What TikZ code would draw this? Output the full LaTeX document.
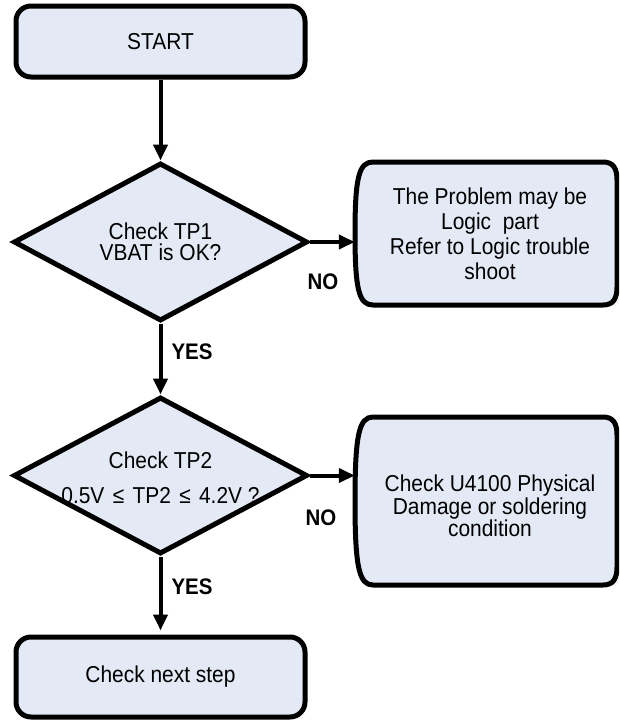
\documentclass[tikz,border=0pt]{standalone}
\usepackage{fontspec}
\setmainfont{Liberation Sans}[FakeStretch=0.91]
\usetikzlibrary{shapes.geometric,arrows.meta}
\definecolor{boxfill}{RGB}{227,233,245}
\begin{document}
\begin{tikzpicture}[x=1pt,y=-1pt,
  bord/.style={draw, line width=5pt, fill=boxfill, line join=round},
  box/.style={bord, rounded corners=15pt, inner sep=0pt, font=\fontsize{23}{23}\selectfont},
  dia/.style={diamond, bord, line join=miter, inner sep=0pt, minimum width=294pt, minimum height=158pt},
  txt/.style={align=center, inner sep=0pt},
  lbl/.style={font=\fontsize{22.5}{23}\selectfont\bfseries, inner sep=0pt},
  conn/.style={line width=4pt, -{Triangle[length=16pt,width=14pt]}}
]
\useasboundingbox (0,0) rectangle (619,720);
\clip (0,0) rectangle (619,720);

% START
\node[box, minimum width=289pt, minimum height=71pt] (start) at (160.5,41.5) {START};

% Decision 1
\node[dia] (d1) at (160.5,242) {};
\node[txt, font=\fontsize{23}{21}\selectfont] (d1t) at (160.5,242) {Check TP1\\VBAT is OK?};

% Box 2 (right)
\node[minimum width=262pt, minimum height=143pt, inner sep=0pt] (b2) at (486,233.5) {};
\path[bord] (355,233.5) .. controls (355,177) and (359,162) .. (373,162)
  -- (603,162) .. controls (613,162) and (617,168) .. (617,180)
  -- (617,287) .. controls (617,299) and (613,305) .. (603,305)
  -- (373,305) .. controls (359,305) and (355,290) .. (355,233.5) -- cycle;
\node[txt, font=\fontsize{23}{25}\selectfont] (b2t) at (490,234) {The Problem may be\\Logic\ \ part\\Refer to Logic trouble\\shoot};

% Decision 2
\node[dia, minimum height=157pt] (d2) at (160.5,475.5) {};
\node[txt, font=\fontsize{23}{35}\selectfont] (d2t) at (160.5,478) {Check TP2\\0.5V\hspace{2.5pt} ≤\hspace{2.5pt} TP2\hspace{2.5pt} ≤\hspace{2.5pt} 4.2V ?};

% Box 3 (right)
\node[minimum width=262pt, minimum height=168pt, inner sep=0pt] (b3) at (486,501) {};
\path[bord] (355,501) .. controls (355,435) and (359,417) .. (373,417)
  -- (603,417) .. controls (613,417) and (617,423) .. (617,435)
  -- (617,567) .. controls (617,579) and (613,585) .. (603,585)
  -- (373,585) .. controls (359,585) and (355,567) .. (355,501) -- cycle;
\node[txt, font=\fontsize{23}{22.5}\selectfont] (b3t) at (490,506) {Check U4100 Physical\\Damage or soldering\\condition};

% Final box
\node[box, minimum width=289pt, minimum height=80pt] (b4) at (160.5,677) {Check next step};

% Labels
\node[lbl] (no1) at (323,282) {NO};
\node[lbl] (yes1) at (192,352) {YES};
\node[lbl] (no2) at (321,518) {NO};
\node[lbl] (yes2) at (192,587) {YES};

% Connectors
\draw[conn] (start.south) -- (d1.north);
\draw[conn] (d1.east) -- (b2.west |- d1.east);
\draw[conn] (d1.south) -- (d2.north);
\draw[conn] (d2.east) -- (b3.west |- d2.east);
\draw[conn, shorten >=4pt] (d2.south) -- (b4.north);
\end{tikzpicture}
\end{document}
